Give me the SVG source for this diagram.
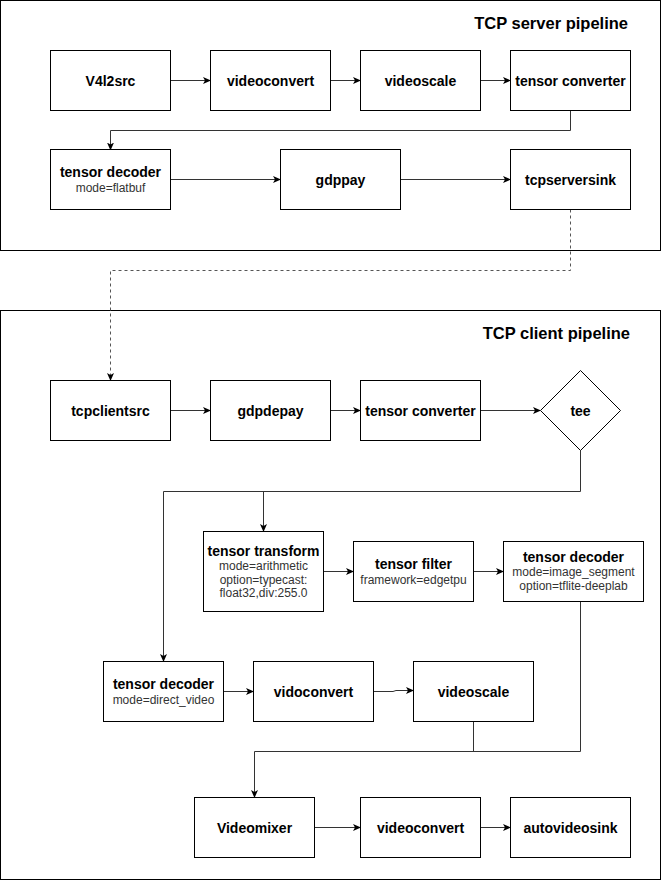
<svg xmlns="http://www.w3.org/2000/svg" width="661" height="881" viewBox="0 0 661 881">
  <style>
    .frame { fill: #ffffff; stroke: #000000; stroke-width: 1; }
    .box { fill: #ffffff; stroke: #000000; stroke-width: 1; }
    .title { font-family: "Liberation Sans", Arial, sans-serif; font-size: 16.5px; font-weight: bold; fill: #000000; text-anchor: end; }
    .lbl { font-family: "Liberation Sans", Arial, sans-serif; font-size: 14px; font-weight: bold; fill: #000000; text-anchor: middle; }
    .sub { font-family: "Liberation Sans", Arial, sans-serif; font-size: 12px; fill: #333333; text-anchor: middle; }
    .edge { fill: none; stroke: #333333; stroke-width: 1; marker-end: url(#arrow); }
    .dash { fill: none; stroke: #555555; stroke-width: 1; stroke-dasharray: 3 3; marker-end: url(#arrow); }
    .wire { fill: none; stroke: #333333; stroke-width: 1; }
  </style>
  <defs>
    <marker id="arrow" viewBox="0 0 8 8" refX="7" refY="4" markerWidth="8" markerHeight="8" markerUnits="userSpaceOnUse" orient="auto">
      <path d="M0,0.5 L8,4 L0,7.5 L2,4 Z" fill="#000000"/>
    </marker>
  </defs>

  <rect width="661" height="881" fill="#ffffff"/>

  <!-- pipeline containers -->
  <g id="server-pipeline">
    <rect class="frame" x="0.5" y="0.5" width="660" height="250"/>
    <text class="title" x="628" y="29">TCP server pipeline</text>
  </g>
  <g id="client-pipeline">
    <rect class="frame" x="0.5" y="310.5" width="660" height="569"/>
    <text class="title" x="630" y="339">TCP client pipeline</text>
  </g>

  <!-- connectors -->
  <g id="connectors">
    <path class="edge" d="M170.5,80.5 H210"/>
    <path class="edge" d="M330.5,80.5 H360"/>
    <path class="edge" d="M480.5,80.5 H510"/>
    <path class="edge" d="M570.5,110.5 V130.5 H110.5 V149.5"/>
    <path class="edge" d="M170.5,179.5 H280"/>
    <path class="edge" d="M400.5,179.5 H510"/>
    <path class="dash" d="M570.5,209.5 V270.5 H110.5 V380"/>

    <path class="edge" d="M170.5,410.5 H210"/>
    <path class="edge" d="M330.5,410.5 H360"/>
    <path class="edge" d="M480.5,410.5 H540"/>
    <path class="edge" d="M580.5,450.5 V491.5 H163.5 V661"/>
    <path class="edge" d="M263.5,491.5 V531"/>
    <path class="edge" d="M323.5,571.5 H353"/>
    <path class="edge" d="M473.5,571.5 H503"/>
    <path class="edge" d="M223.5,691.5 H253"/>
    <path class="edge" d="M373.5,691.5 H393 L396,690.5 H413"/>
    <path class="wire" d="M580.5,601.5 V751.5 H254.5"/>
    <path class="wire" d="M473.5,721.5 V751.5"/>
    <path class="edge" d="M254.5,751.5 V797" stroke-width="1.5"/>
    <path class="edge" d="M314.5,827.5 H360"/>
    <path class="edge" d="M480.5,827.5 H510"/>
  </g>

  <!-- server nodes -->
  <g id="v4l2src">
    <rect class="box" x="50.5" y="50.5" width="120" height="60"/>
    <text class="lbl" x="110.5" y="85.5">V4l2src</text>
  </g>
  <g id="videoconvert-1">
    <rect class="box" x="210.5" y="50.5" width="120" height="60"/>
    <text class="lbl" x="270.5" y="85.5">videoconvert</text>
  </g>
  <g id="videoscale-1">
    <rect class="box" x="360.5" y="50.5" width="120" height="60"/>
    <text class="lbl" x="420.5" y="85.5">videoscale</text>
  </g>
  <g id="tensor-converter-1">
    <rect class="box" x="510.5" y="50.5" width="120" height="60"/>
    <text class="lbl" x="570.5" y="85.5">tensor converter</text>
  </g>
  <g id="tensor-decoder-flatbuf">
    <rect class="box" x="50.5" y="149.5" width="120" height="60"/>
    <text class="lbl" x="110.5" y="177">tensor decoder</text>
    <text class="sub" x="110.5" y="191.5">mode=flatbuf</text>
  </g>
  <g id="gdppay">
    <rect class="box" x="280.5" y="149.5" width="120" height="60"/>
    <text class="lbl" x="340.5" y="184.5">gdppay</text>
  </g>
  <g id="tcpserversink">
    <rect class="box" x="510.5" y="149.5" width="120" height="60"/>
    <text class="lbl" x="570.5" y="184.5">tcpserversink</text>
  </g>

  <!-- client nodes -->
  <g id="tcpclientsrc">
    <rect class="box" x="50.5" y="380.5" width="120" height="60"/>
    <text class="lbl" x="110.5" y="415.5">tcpclientsrc</text>
  </g>
  <g id="gdpdepay">
    <rect class="box" x="210.5" y="380.5" width="120" height="60"/>
    <text class="lbl" x="270.5" y="415.5">gdpdepay</text>
  </g>
  <g id="tensor-converter-2">
    <rect class="box" x="360.5" y="380.5" width="120" height="60"/>
    <text class="lbl" x="420.5" y="415.5">tensor converter</text>
  </g>
  <g id="tee">
    <path class="box" d="M580.5,370.5 L620.5,410.5 L580.5,450.5 L540.5,410.5 Z"/>
    <text class="lbl" x="580.5" y="415.5">tee</text>
  </g>
  <g id="tensor-transform">
    <rect class="box" x="203.5" y="531.5" width="120" height="80"/>
    <text class="lbl" x="263.5" y="556">tensor transform</text>
    <text class="sub" x="263.5" y="569.5">mode=arithmetic</text>
    <text class="sub" x="263.5" y="583.5">option=typecast:</text>
    <text class="sub" x="263.5" y="597">float32,div:255.0</text>
  </g>
  <g id="tensor-filter">
    <rect class="box" x="353.5" y="541.5" width="120" height="60"/>
    <text class="lbl" x="413.5" y="569">tensor filter</text>
    <text class="sub" x="413.5" y="583.5">framework=edgetpu</text>
  </g>
  <g id="tensor-decoder-segment">
    <rect class="box" x="503.5" y="541.5" width="140" height="60"/>
    <text class="lbl" x="573.5" y="562">tensor decoder</text>
    <text class="sub" x="573.5" y="576">mode=image_segment</text>
    <text class="sub" x="573.5" y="590">option=tflite-deeplab</text>
  </g>
  <g id="tensor-decoder-video">
    <rect class="box" x="103.5" y="661.5" width="120" height="60"/>
    <text class="lbl" x="163.5" y="689">tensor decoder</text>
    <text class="sub" x="163.5" y="703.5">mode=direct_video</text>
  </g>
  <g id="vidoconvert">
    <rect class="box" x="253.5" y="661.5" width="120" height="60"/>
    <text class="lbl" x="313.5" y="696.5">vidoconvert</text>
  </g>
  <g id="videoscale-2">
    <rect class="box" x="413.5" y="661.5" width="120" height="60"/>
    <text class="lbl" x="473.5" y="696.5">videoscale</text>
  </g>
  <g id="videomixer">
    <rect class="box" x="194.5" y="797.5" width="120" height="60"/>
    <text class="lbl" x="254.5" y="832.5">Videomixer</text>
  </g>
  <g id="videoconvert-2">
    <rect class="box" x="360.5" y="797.5" width="120" height="60"/>
    <text class="lbl" x="420.5" y="832.5">videoconvert</text>
  </g>
  <g id="autovideosink">
    <rect class="box" x="510.5" y="797.5" width="120" height="60"/>
    <text class="lbl" x="570.5" y="832.5">autovideosink</text>
  </g>
</svg>
